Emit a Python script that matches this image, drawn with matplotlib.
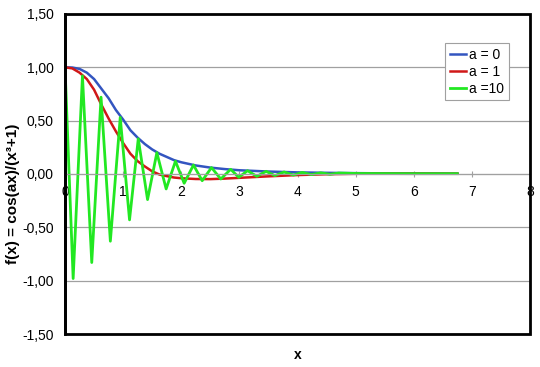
import matplotlib.pyplot as plt
from matplotlib.patches import Rectangle
from matplotlib.ticker import FuncFormatter

plt.rcParams['font.family'] = ['Liberation Sans', 'DejaVu Sans']

# smooth curves, values
x_smooth = [0, 0.125, 0.25, 0.375, 0.5, 0.625, 0.75, 0.875, 1.0, 1.125, 1.25, 1.375,
            1.5, 1.625, 1.75, 1.875, 2.0, 2.25, 2.5, 2.75, 3.0, 3.5, 4.0, 4.5, 5.0,
            5.5, 6.0, 6.75]
y_a0 = [1.0, 0.998, 0.985, 0.95, 0.89, 0.80, 0.71, 0.60, 0.51, 0.41, 0.34, 0.28,
        0.23, 0.19, 0.16, 0.13, 0.11, 0.08, 0.06, 0.046, 0.035, 0.023, 0.015, 0.011,
        0.008, 0.006, 0.005, 0.003]
y_a1 = [1.0, 0.99, 0.95, 0.89, 0.79, 0.65, 0.52, 0.40, 0.29, 0.19, 0.12, 0.07,
        0.025, -0.005, -0.02, -0.033, -0.04, -0.047, -0.048, -0.043, -0.036, -0.022,
        -0.01, -0.002, 0.002, 0.004, 0.004, 0.003]

# oscillating curve: turning points
x_a10 = [0, 0.14, 0.30, 0.46, 0.62, 0.78, 0.95, 1.11, 1.26, 1.42, 1.58, 1.74, 1.90,
         2.05, 2.21, 2.36, 2.52, 2.68, 2.85, 2.99, 3.14, 3.30, 3.46, 3.61, 3.77, 3.93,
         4.08, 4.24, 4.40, 4.56, 4.71, 5.0, 5.5, 6.0, 6.75]
y_a10 = [1.0, -0.98, 0.92, -0.83, 0.72, -0.63, 0.53, -0.43, 0.33, -0.24, 0.20, -0.14,
         0.12, -0.087, 0.084, -0.063, 0.06, -0.047, 0.044, -0.031, 0.031, -0.022,
         0.025, -0.015, 0.019, -0.010, 0.015, -0.006, 0.011, -0.003, 0.009, 0.005,
         0.004, 0.003, 0.003]

labels = ['a = 0', 'a = 1', 'a =10']
colors = ['#3355c0', '#d01818', '#22e822']

fig = plt.figure(figsize=(5.4, 3.67), dpi=100)
ax = fig.add_axes([0.1204, 0.0899, 0.8611, 0.872])

ax.plot(x_smooth, y_a0, color=colors[0], lw=1.8, label=labels[0])
ax.plot(x_smooth, y_a1, color=colors[1], lw=1.8, label=labels[1])
ax.plot(x_a10, y_a10, color=colors[2], lw=2.0, label=labels[2])

ax.set_xlim(0, 8)
ax.set_ylim(-1.5, 1.5)
ax.set_yticks([-1.5, -1.0, -0.5, 0, 0.5, 1.0, 1.5])
ax.yaxis.set_major_formatter(FuncFormatter(lambda v, p: f"{v:.2f}".replace('.', ',')))
ax.set_xticks(range(9))
ax.grid(axis='y', color='#a0a0a0', lw=0.9)
ax.set_axisbelow(True)

ax.spines['top'].set_visible(False)
ax.spines['right'].set_visible(False)
ax.spines['left'].set_linewidth(2)
ax.spines['bottom'].set_position(('data', 0))
ax.spines['bottom'].set_color('#a0a0a0')
ax.add_patch(Rectangle((0, 0), 1, 1, transform=ax.transAxes, fill=False,
                       ec='black', lw=2, clip_on=False, zorder=5))

ax.tick_params(axis='y', length=0, labelsize=10, pad=8)
ax.tick_params(axis='x', direction='inout', length=4, color='#a0a0a0',
               labelsize=10, pad=6)

fig.text(0.024, 0.471, 'f(x) = cos(ax)/(x³+1)', fontsize=11, fontweight='bold',
         rotation=90, ha='center', va='center')
fig.text(0.552, 0.033, 'x', fontsize=10, fontweight='bold', ha='center', va='center')

leg = ax.legend(loc='upper right', bbox_to_anchor=(0.955, 0.909), fontsize=10,
                fancybox=False, framealpha=1, edgecolor='#a0a0a0',
                handlelength=1.2, handletextpad=0.2, borderpad=0.35, labelspacing=0.2,
                borderaxespad=0)
leg.get_frame().set_linewidth(0.8)

fig.savefig('out.png', dpi=100)
